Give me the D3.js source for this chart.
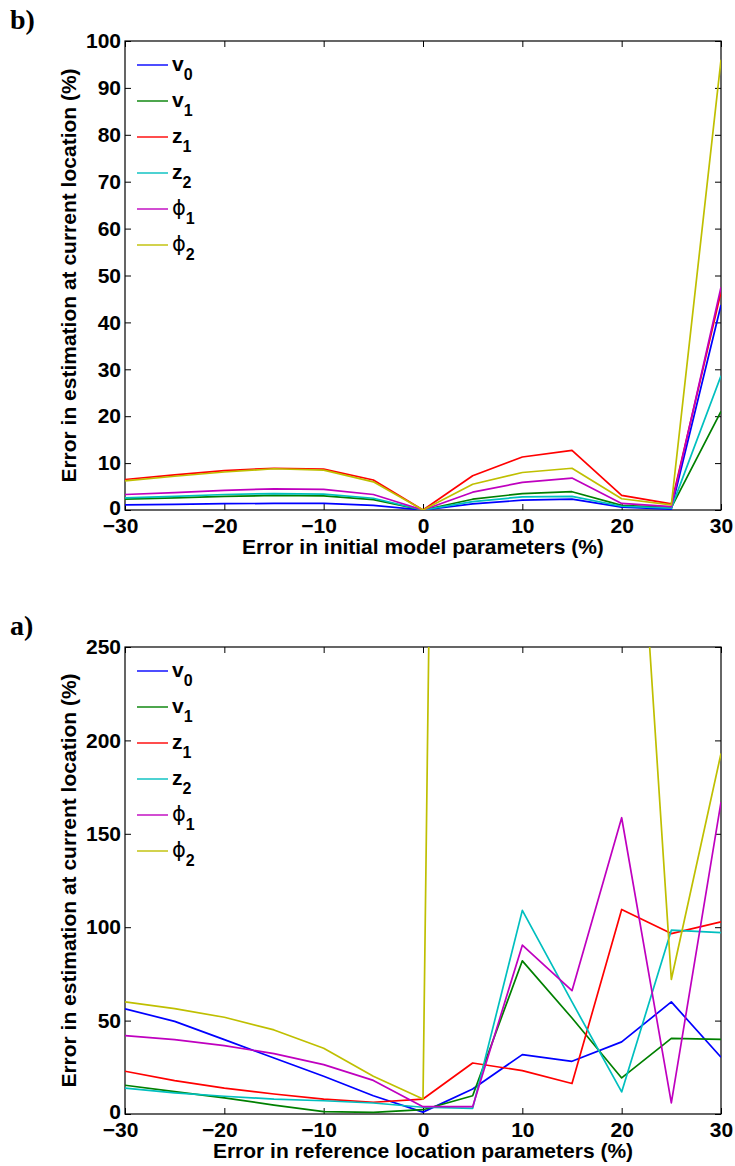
<!DOCTYPE html>
<html>
<head>
<meta charset="utf-8">
<script src="https://cdn.jsdelivr.net/npm/d3@7"></script>
<style>
  body { margin: 0; background: #fff; }
  svg { display: block; }
  .tick text { font-family: "Liberation Sans", Arial, sans-serif; font-weight: bold; font-size: 21px; fill: #000; }
  .axis-label { font-family: "Liberation Sans", Arial, sans-serif; font-weight: bold; font-size: 21px; fill: #000; }
  .panel-tag { font-family: "Liberation Serif", "Times New Roman", serif; font-weight: bold; font-size: 28px; }
</style>
</head>
<body>
<svg width="735" height="1166"></svg>
<script>
// x positions shared by both panels
const xVals = [-30, -25, -20, -15, -10, -5, 0, 5, 10, 15, 20, 25, 30];
const xTicks = [-30, -20, -10, 0, 10, 20, 30];

const seriesNames = ['v0', 'v1', 'z1', 'z2', 'phi1', 'phi2'];
const colors = ['#0000ff', '#008000', '#ff0000', '#00bfbf', '#bf00bf', '#bfbf00'];

// panel b) error in initial model parameters
const bV0   = [1.1, 1.2, 1.35, 1.4, 1.4, 1.0, 0, 1.3, 2.1, 2.3, 0.6, 0.2, 43.7];
const bV1   = [2.3, 2.6, 2.9, 3.1, 3.0, 2.2, 0, 2.3, 3.5, 3.9, 1.0, 0.5, 21.0];
const bZ1   = [6.5, 7.5, 8.4, 8.9, 8.7, 6.4, 0, 7.3, 11.3, 12.7, 3.1, 1.3, 46.5];
const bZ2   = [2.6, 2.9, 3.3, 3.5, 3.4, 2.5, 0, 1.8, 2.8, 2.9, 0.8, 0.4, 28.6];
const bPhi1 = [3.3, 3.7, 4.2, 4.5, 4.4, 3.3, 0, 3.8, 5.9, 6.8, 1.4, 0.7, 47.5];
const bPhi2 = [6.2, 7.2, 8.1, 8.8, 8.5, 6.0, 0, 5.5, 8.0, 8.9, 2.4, 1.1, 96.0];
const bTicks = [0, 10, 20, 30, 40, 50, 60, 70, 80, 90, 100];

// panel a) error in reference location parameters
const aV0   = [56.3, 49.6, 39.8, 30.0, 20.2, 9.8, 1.0, 13.4, 31.8, 28.2, 38.6, 60.0, 30.4];
const aV1   = [15.4, 12.0, 8.6, 4.8, 1.3, 0.9, 2.3, 9.8, 82.0, 51.4, 19.3, 40.5, 40.0];
const aZ1   = [22.9, 17.9, 13.9, 10.7, 8.0, 6.3, 8.0, 27.3, 23.2, 16.3, 109.5, 96.6, 102.9];
const aZ2   = [13.9, 11.3, 9.5, 8.0, 7.1, 5.9, 3.6, 3.0, 109.0, 60.0, 11.8, 98.4, 97.1];
const aPhi1 = [42.0, 39.8, 36.6, 32.3, 26.4, 18.0, 3.9, 3.9, 90.4, 66.0, 158.6, 5.9, 167.0];
const aPhi2 = [60.0, 56.4, 51.8, 45.0, 35.2, 20.2, 8.0, 2100, 1200, 800, 480, 72.0, 193.0];
const aTicks = [0, 50, 100, 150, 200, 250];

const svg = d3.select('svg');
const left = 125, right = 721;

function panel(opts) {
  const {top, bottom, yMax, yTicks, series, xLabel, tag, clipId} = opts;
  const innerW = right - left, innerH = bottom - top;

  const x = d3.scaleLinear().domain([-30, 30]).range([0, innerW]);
  const y = d3.scaleLinear().domain([0, yMax]).range([innerH, 0]);

  const g = svg.append('g').attr('transform', `translate(${left},${top})`);

  g.append('clipPath').attr('id', clipId)
    .append('rect').attr('width', innerW).attr('height', innerH);

  // ticks on all four sides, pointing inward like matlab
  const tk = 6;
  const xAxisG = g.append('g').attr('transform', `translate(0,${innerH})`)
    .call(d3.axisBottom(x).tickValues(xTicks).tickSize(-tk).tickPadding(8).tickSizeOuter(0));
  // matlab's minus sits a bit left of the tick
  xAxisG.selectAll('.tick text').attr('dx', d => d < 0 ? -5 : 0);
  g.append('g')
    .call(d3.axisTop(x).tickValues(xTicks).tickSize(-tk).tickFormat('').tickSizeOuter(0));
  const yAxisG = g.append('g')
    .call(d3.axisLeft(y).tickValues(yTicks).tickSize(-tk).tickPadding(4).tickSizeOuter(0));
  // lift the zero a touch so it clears the -30 below it
  yAxisG.selectAll('.tick text').attr('dy', d => d === 0 ? '0.2em' : '0.32em');
  g.append('g').attr('transform', `translate(${innerW},0)`)
    .call(d3.axisRight(y).tickValues(yTicks).tickSize(-tk).tickFormat('').tickSizeOuter(0));
  g.selectAll('.domain').remove();
  g.selectAll('.tick line').attr('stroke', '#000');

  g.append('rect').attr('width', innerW).attr('height', innerH)
    .attr('fill', 'none').attr('stroke', '#000').attr('stroke-width', 1.2);

  const line = d3.line().x((d, i) => x(xVals[i])).y(d => y(d));
  g.append('g').attr('clip-path', `url(#${clipId})`)
    .selectAll('path')
    .data(series)
    .join('path')
    .attr('d', d => line(d))
    .attr('fill', 'none')
    .attr('stroke', (d, i) => colors[i])
    .attr('stroke-width', 1.7)
    .attr('stroke-linejoin', 'round');

  // legend
  const lg = g.append('g').attr('transform', 'translate(12,24)');
  const item = lg.selectAll('g').data(seriesNames).join('g')
    .attr('transform', (d, i) => `translate(0,${i * 36})`);
  item.append('line').attr('x1', 0).attr('x2', 31)
    .attr('stroke', (d, i) => colors[i]).attr('stroke-width', 1.4);
  const t = item.append('text').attr('x', 35).attr('y', 6);
  t.append('tspan')
    .style('font-family', d => d.startsWith('phi') ? '"DejaVu Sans", sans-serif' : '"Liberation Sans", Arial, sans-serif')
    .style('font-weight', d => d.startsWith('phi') ? 'normal' : 'bold')
    .style('font-size', '21px')
    .text(d => d.startsWith('phi') ? '\u03d5' : d[0]);
  t.append('tspan').attr('dy', 9)
    .style('font-family', '"Liberation Sans", Arial, sans-serif')
    .style('font-weight', 'bold').style('font-size', '16px')
    .text(d => d.slice(-1));

  g.append('text').attr('class', 'axis-label')
    .attr('x', innerW / 2).attr('y', innerH + 44)
    .attr('text-anchor', 'middle')
    .text(xLabel);
  g.append('text').attr('class', 'axis-label')
    .attr('transform', 'rotate(-90)')
    .attr('x', -innerH / 2).attr('y', -49)
    .attr('text-anchor', 'middle')
    .text('Error in estimation at current location (%)');

  svg.append('text').attr('class', 'panel-tag')
    .attr('x', 10).attr('y', top - 12)
    .text(tag);
}

panel({top: 41, bottom: 510, yMax: 100, yTicks: bTicks,
  series: [bV0, bV1, bZ1, bZ2, bPhi1, bPhi2],
  xLabel: 'Error in initial model parameters (%)', tag: 'b)', clipId: 'clipB'});

panel({top: 647, bottom: 1114, yMax: 250, yTicks: aTicks,
  series: [aV0, aV1, aZ1, aZ2, aPhi1, aPhi2],
  xLabel: 'Error in reference location parameters (%)', tag: 'a)', clipId: 'clipA'});
</script>
</body>
</html>
